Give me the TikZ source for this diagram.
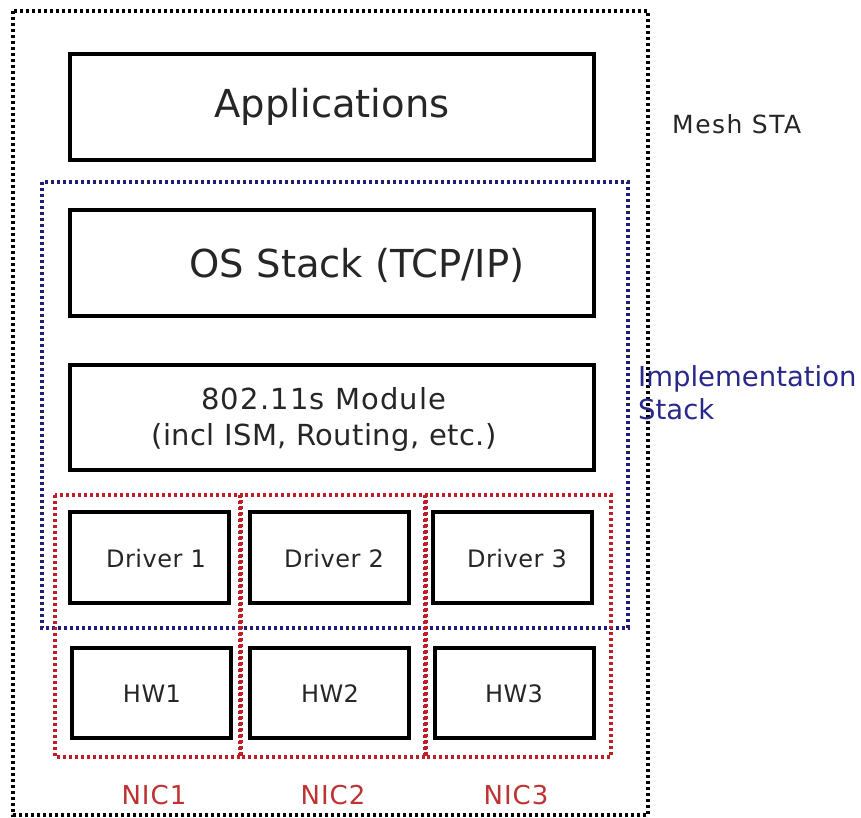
\documentclass[tikz,border=0pt]{standalone}
\usepackage{fontspec}
\setmainfont{DejaVu Sans}
\newcommand{\ls}[1]{\addfontfeature{LetterSpace=#1}}
\begin{document}
\begin{tikzpicture}[x=1pt,y=-1pt,
  blk/.style={draw=black,line width=4pt,fill=white,inner sep=0pt,outer sep=0pt,anchor=north west},
  outerdot/.style={draw=black,line width=3.4pt,dash pattern=on 3pt off 3pt},
  bluedot/.style={draw={rgb,255:red,30;green,30;blue,120},line width=3.2pt,dash pattern=on 3pt off 3pt},
  reddot/.style={draw={rgb,255:red,190;green,30;blue,40},line width=3.2pt,dash pattern=on 3pt off 3pt},
  lbl/.style={inner sep=0pt,text=black!85},
  nic/.style={lbl,font=\fontsize{26}{30}\selectfont\ls{4},text={rgb,255:red,190;green,50;blue,50}},
  sm/.style={lbl,font=\fontsize{24}{28}\selectfont\ls{2}}
]
\useasboundingbox (0,0) rectangle (861,818);
\fill[white] (0,0) rectangle (861,818);
% outer mesh STA
\draw[outerdot] (13,11) rectangle (648,815);
% implementation stack
\draw[bluedot] (42,182) rectangle (628,628);
% NIC boxes
\draw[reddot] (55,495) rectangle (241,757);
\draw[reddot] (240,495) rectangle (426,757);
\draw[reddot] (425,495) rectangle (611,757);
% boxes
\node[blk,minimum width=524pt,minimum height=106pt] (app) at (70,54) {};
\node[lbl,font=\fontsize{38.5}{40}\selectfont] at (332,107) {Applications};
\node[blk,minimum width=524pt,minimum height=106pt] (os) at (70,210) {};
\node[lbl,font=\fontsize{38.5}{40}\selectfont] at (357,265) {OS Stack (TCP/IP)};
\node[blk,minimum width=524pt,minimum height=105pt] (mod) at (70,365) {};
\node[lbl,font=\fontsize{29}{38}\selectfont\ls{4}] at (324,399) {802.11s Module};
\node[lbl,font=\fontsize{29}{38}\selectfont\ls{1.3}] at (324,437) {(incl ISM, Routing, etc.)};
\node[blk,minimum width=159pt,minimum height=91pt] (d1) at (70,512) {};
\node[blk,minimum width=159pt,minimum height=91pt] (d2) at (250,512) {};
\node[blk,minimum width=159pt,minimum height=91pt] (d3) at (433,512) {};
\node[sm] at (156,559) {Driver 1};
\node[sm] at (334,559) {Driver 2};
\node[sm] at (517,559) {Driver 3};
\node[blk,minimum width=159pt,minimum height=90pt] (h1) at (72,648) {};
\node[blk,minimum width=159pt,minimum height=90pt] (h2) at (250,648) {};
\node[blk,minimum width=159pt,minimum height=90pt] (h3) at (435,648) {};
\node[sm] at (152,694) {HW1};
\node[sm] at (330,694) {HW2};
\node[sm] at (514,694) {HW3};
% labels
\node[nic] (n1) at (154,795) {NIC1};
\node[nic] (n2) at (333,795) {NIC2};
\node[nic] (n3) at (516,795) {NIC3};
\node[lbl,font=\fontsize{25}{28}\selectfont\ls{6},anchor=west] (mesh) at (672,124) {Mesh STA};
\node[lbl,font=\fontsize{27.5}{33}\selectfont,anchor=north west,align=left,text={rgb,255:red,40;green,40;blue,140}] (impl) at (638,365) {Implementation\\Stack};
\end{tikzpicture}
\end{document}
